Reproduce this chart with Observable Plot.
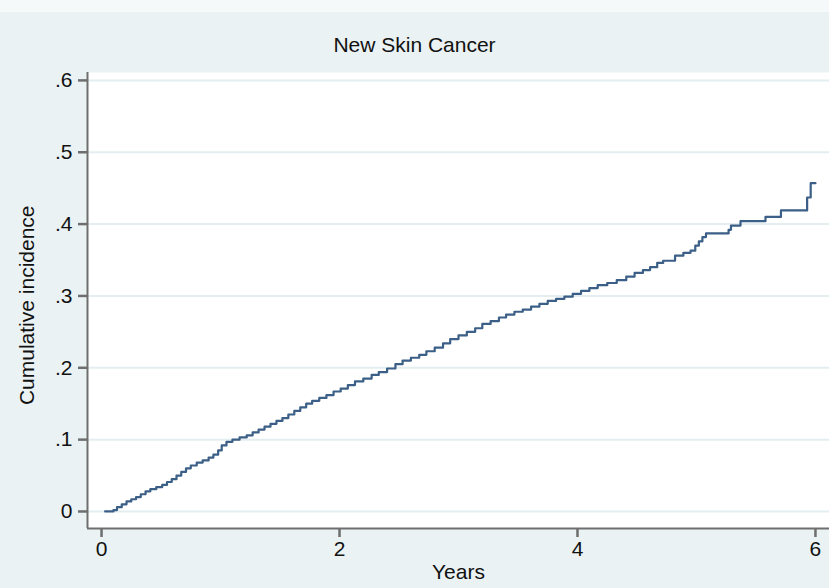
<!DOCTYPE html>
<html><head><meta charset="utf-8">
<script src="https://cdn.jsdelivr.net/npm/d3@7"></script>
<script src="https://cdn.jsdelivr.net/npm/@observablehq/plot@0.6"></script>
<style>
body{margin:0;background:#eaf2f3;}
#wrap{position:relative;width:829px;height:588px;overflow:hidden;background:#eaf2f3;font-family:"Liberation Sans",Arial,sans-serif;}
#top{position:absolute;left:0;top:0;width:829px;height:12px;background:#f6f9f9;}
#title{position:absolute;left:0;width:829px;top:33px;text-align:center;font-size:21px;color:#111;}
#chart{position:absolute;left:0;top:0;}
</style></head><body>
<div id="wrap"><div id="top"></div><div id="title">New Skin Cancer</div><div id="chart"></div></div>
<script>
const years = [0.03,0.10,0.13,0.17,0.21,0.25,0.29,0.33,0.37,0.41,0.46,0.51,0.55,0.59,0.63,0.67,0.71,0.75,0.80,0.85,0.90,0.94,0.98,1.01,1.05,1.10,1.16,1.22,1.27,1.32,1.37,1.42,1.47,1.52,1.57,1.62,1.67,1.72,1.77,1.83,1.89,1.95,2.01,2.07,2.13,2.20,2.27,2.33,2.40,2.47,2.53,2.60,2.67,2.73,2.80,2.87,2.93,3.00,3.07,3.14,3.20,3.27,3.34,3.40,3.47,3.54,3.61,3.68,3.75,3.82,3.89,3.96,4.03,4.10,4.17,4.25,4.33,4.41,4.48,4.55,4.61,4.67,4.72,4.82,4.89,4.95,4.99,5.02,5.05,5.08,5.27,5.29,5.37,5.58,5.71,5.93,5.96,6.00];
const incidence = [0,0.002,0.006,0.010,0.014,0.017,0.020,0.024,0.028,0.031,0.034,0.037,0.041,0.045,0.050,0.055,0.060,0.064,0.068,0.071,0.075,0.079,0.085,0.092,0.097,0.100,0.103,0.106,0.110,0.114,0.118,0.122,0.126,0.130,0.135,0.140,0.145,0.150,0.154,0.158,0.162,0.167,0.171,0.176,0.181,0.185,0.190,0.194,0.199,0.205,0.210,0.214,0.218,0.223,0.228,0.234,0.240,0.245,0.250,0.255,0.261,0.265,0.270,0.274,0.278,0.281,0.285,0.289,0.293,0.296,0.299,0.303,0.307,0.311,0.315,0.318,0.322,0.327,0.332,0.336,0.340,0.346,0.349,0.356,0.360,0.363,0.370,0.376,0.382,0.387,0.392,0.398,0.404,0.410,0.419,0.437,0.457,0.457];
const yTicks = [0, 0.1, 0.2, 0.3, 0.4, 0.5, 0.6];
const xTicks = [0, 2, 4, 6];

const data = years.map((t, i) => ({t, v: incidence[i]}));
const xDom = [-0.118, 6.118];
const yDom = [-0.0237, 0.611];
const fmtY = d => d === 0 ? "0" : d.toFixed(1).replace(/^0/, "");
const axisColor = "#6e6e6e";

const chart = Plot.plot({
  width: 829, height: 588,
  marginLeft: 87, marginRight: 0, marginTop: 72, marginBottom: 60,
  style: {background: "transparent", fontFamily: "Liberation Sans, Arial, sans-serif", fontSize: "21px", color: "#111"},
  x: {domain: xDom},
  y: {domain: yDom},
  marks: [
    Plot.frame({fill: "white", stroke: null}),
    Plot.gridY(yTicks, {stroke: "#e4eef0", strokeOpacity: 1, strokeWidth: 2}),
    Plot.line(data, {x: "t", y: "v", curve: "step-after", stroke: "#3b5f86", strokeWidth: 2.2}),
    Plot.axisY(yTicks, {tickSize: 9, tickPadding: 6, tickFormat: fmtY, stroke: axisColor, strokeWidth: 2.5, fontSize: 21, label: null}),
    Plot.axisX(xTicks, {tickSize: 9, tickPadding: 4, tickFormat: d => String(d), stroke: axisColor, strokeWidth: 2.5, fontSize: 21, label: null}),
    Plot.ruleX([xDom[0]], {stroke: axisColor, strokeWidth: 2}),
    Plot.ruleY([yDom[0]], {stroke: axisColor, strokeWidth: 2}),
    Plot.text(["Cumulative incidence"], {x: () => -0.622, y: () => 0.287, rotate: -90, fontSize: 21, fill: "#111", clip: false}),
    Plot.text(["Years"], {frameAnchor: "bottom", lineAnchor: "middle", dy: 44, fontSize: 21, fill: "#111"})
  ]
});
document.getElementById("chart").appendChild(chart);
</script>
</body></html>
